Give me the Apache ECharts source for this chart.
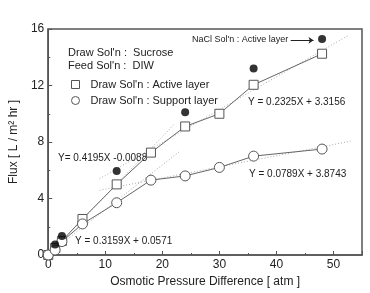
<!DOCTYPE html>
<html>
<head>
<meta charset="utf-8">
<script src="https://cdn.jsdelivr.net/npm/echarts@6/dist/echarts.min.js"></script>
<style>
html, body { margin: 0; padding: 0; background: #fff; }
.main { width: 370px; height: 293px; }
</style>
</head>
<body>
<div class="main"></div>
<script>
// osmotic pressure difference [atm]
var pressure = [0, 1.2, 2.4, 6, 12, 18, 24, 30, 36, 48]
var activeFlux = [0, 0.5, 1.0, 2.55, 5.0, 7.25, 9.1, 10.0, 12.05, 14.25]
var supportFlux = [0, 0.35, 0.95, 2.2, 3.7, 5.3, 5.6, 6.2, 7.0, 7.5]
var naclPressure = [1.2, 2.4, 12, 24, 36, 48]
var naclFlux = [0.75, 1.35, 5.95, 10.1, 13.2, 15.3]

// linear fits: [slope, intercept, xFrom, xTo]
var fitActiveLow = [0.4195, -0.0088, 0, 22]
var fitActiveHigh = [0.2325, 3.3156, 9, 52.5]
var fitSupportLow = [0.3159, 0.0571, 0, 23]
var fitSupportHigh = [0.0789, 3.8743, 9, 53]

function pairs(xs, ys) {
    return xs.map(function (x, i) { return [x, ys[i]]; });
}
function fitLine(f) {
    return [[f[2], f[0] * f[2] + f[1]], [f[3], f[0] * f[3] + f[1]]];
}
function fitSeries(f) {
    return {
        type: 'line',
        data: fitLine(f),
        symbol: 'none',
        silent: true,
        lineStyle: { color: '#aaa', width: 1, type: [1, 2] },
        z: 1
    };
}

var myChart = echarts.init(document.querySelector('.main'))
var font = 'Liberation Sans, Arial, sans-serif'

option = {
    animation: false,
    textStyle: { fontFamily: font },
    grid: {
        left: 45, right: 8, top: 29, bottom: 36,
        show: true, borderColor: '#555', borderWidth: 1.5
    },
    legend: {
        left: 66, top: 74,
        orient: 'vertical',
        itemWidth: 8, itemHeight: 8, itemGap: 5,
        textStyle: { fontSize: 11, color: '#222', padding: [0, 0, 0, 6] },
        itemStyle: { color: '#fff', borderColor: '#555', borderWidth: 1 },
        data: [
            { name: "Draw Sol'n : Active layer", icon: 'rect' },
            { name: "Draw Sol'n : Support layer", icon: 'circle' }
        ]
    },
    graphic: [
        { type: 'text', left: 68, top: 47, style: { text: "Draw Sol'n :  Sucrose", font: '11px ' + font, fill: '#222' } },
        { type: 'text', left: 68, top: 60, style: { text: "Feed Sol'n :  DIW", font: '11px ' + font, fill: '#222' } },
        { type: 'text', left: 192, top: 35, style: { text: "NaCl Sol'n : Active layer", font: '9px ' + font, fill: '#222' } },
        { type: 'text', left: 248, top: 97, style: { text: 'Y = 0.2325X + 3.3156', font: '10px ' + font, fill: '#222' } },
        { type: 'text', left: 58, top: 153, style: { text: 'Y= 0.4195X -0.0088', font: '10px ' + font, fill: '#222' } },
        { type: 'text', left: 75, top: 236, style: { text: 'Y = 0.3159X + 0.0571', font: '10px ' + font, fill: '#222' } },
        { type: 'text', left: 249, top: 169, style: { text: 'Y = 0.0789X + 3.8743', font: '10px ' + font, fill: '#222' } }
    ],
    xAxis: {
        type: 'value',
        min: 0, max: 55, interval: 10,
        name: 'Osmotic Pressure Difference [ atm ]',
        nameLocation: 'middle', nameGap: 21,
        nameTextStyle: { fontSize: 12, color: '#222' },
        axisLine: { lineStyle: { color: '#555', width: 1.5 } },
        axisTick: { inside: true, length: 4, lineStyle: { color: '#555' } },
        minorTick: { show: true, splitNumber: 2, length: 2, lineStyle: { color: '#555' } },
        axisLabel: { fontSize: 12, color: '#222', margin: 4, showMaxLabel: false },
        splitLine: { show: false }
    },
    yAxis: {
        type: 'value',
        min: 0, max: 16, interval: 4,
        name: 'Flux [ L / m\u00b2 hr ]',
        nameLocation: 'middle', nameGap: 28,
        nameTextStyle: { fontSize: 12, color: '#222' },
        axisLine: { lineStyle: { color: '#555', width: 1.5 } },
        axisTick: { inside: true, length: 4, lineStyle: { color: '#555' } },
        minorTick: { show: true, splitNumber: 2, length: 2, lineStyle: { color: '#555' } },
        axisLabel: { fontSize: 12, color: '#222', margin: 4 },
        splitLine: { show: false }
    },
    series: [
        fitSeries(fitActiveLow),
        fitSeries(fitActiveHigh),
        fitSeries(fitSupportLow),
        fitSeries(fitSupportHigh),
        {
            name: "Draw Sol'n : Active layer",
            type: 'line',
            data: pairs(pressure, activeFlux),
            symbol: 'rect', symbolSize: 9,
            lineStyle: { color: '#666', width: 1 },
            itemStyle: { color: '#fff', borderColor: '#555', borderWidth: 1 },
            z: 3
        },
        {
            name: "Draw Sol'n : Support layer",
            type: 'line',
            data: pairs(pressure, supportFlux),
            symbol: 'circle', symbolSize: 10,
            lineStyle: { color: '#666', width: 1 },
            itemStyle: { color: '#fff', borderColor: '#555', borderWidth: 1 },
            z: 3
        },
        {
            name: "NaCl Sol'n : Active layer",
            type: 'scatter',
            data: pairs(naclPressure, naclFlux),
            symbol: 'circle', symbolSize: 8,
            itemStyle: { color: '#000' },
            z: 4,
            markLine: {
                silent: true,
                symbol: ['none', 'arrow'], symbolSize: 5,
                label: { show: false },
                lineStyle: { color: '#222', width: 1, type: 'solid' },
                data: [[{ coord: [42.5, 15.2] }, { coord: [46.5, 15.2] }]]
            }
        }
    ]
};

myChart.setOption(option);
</script>
</body>
</html>
